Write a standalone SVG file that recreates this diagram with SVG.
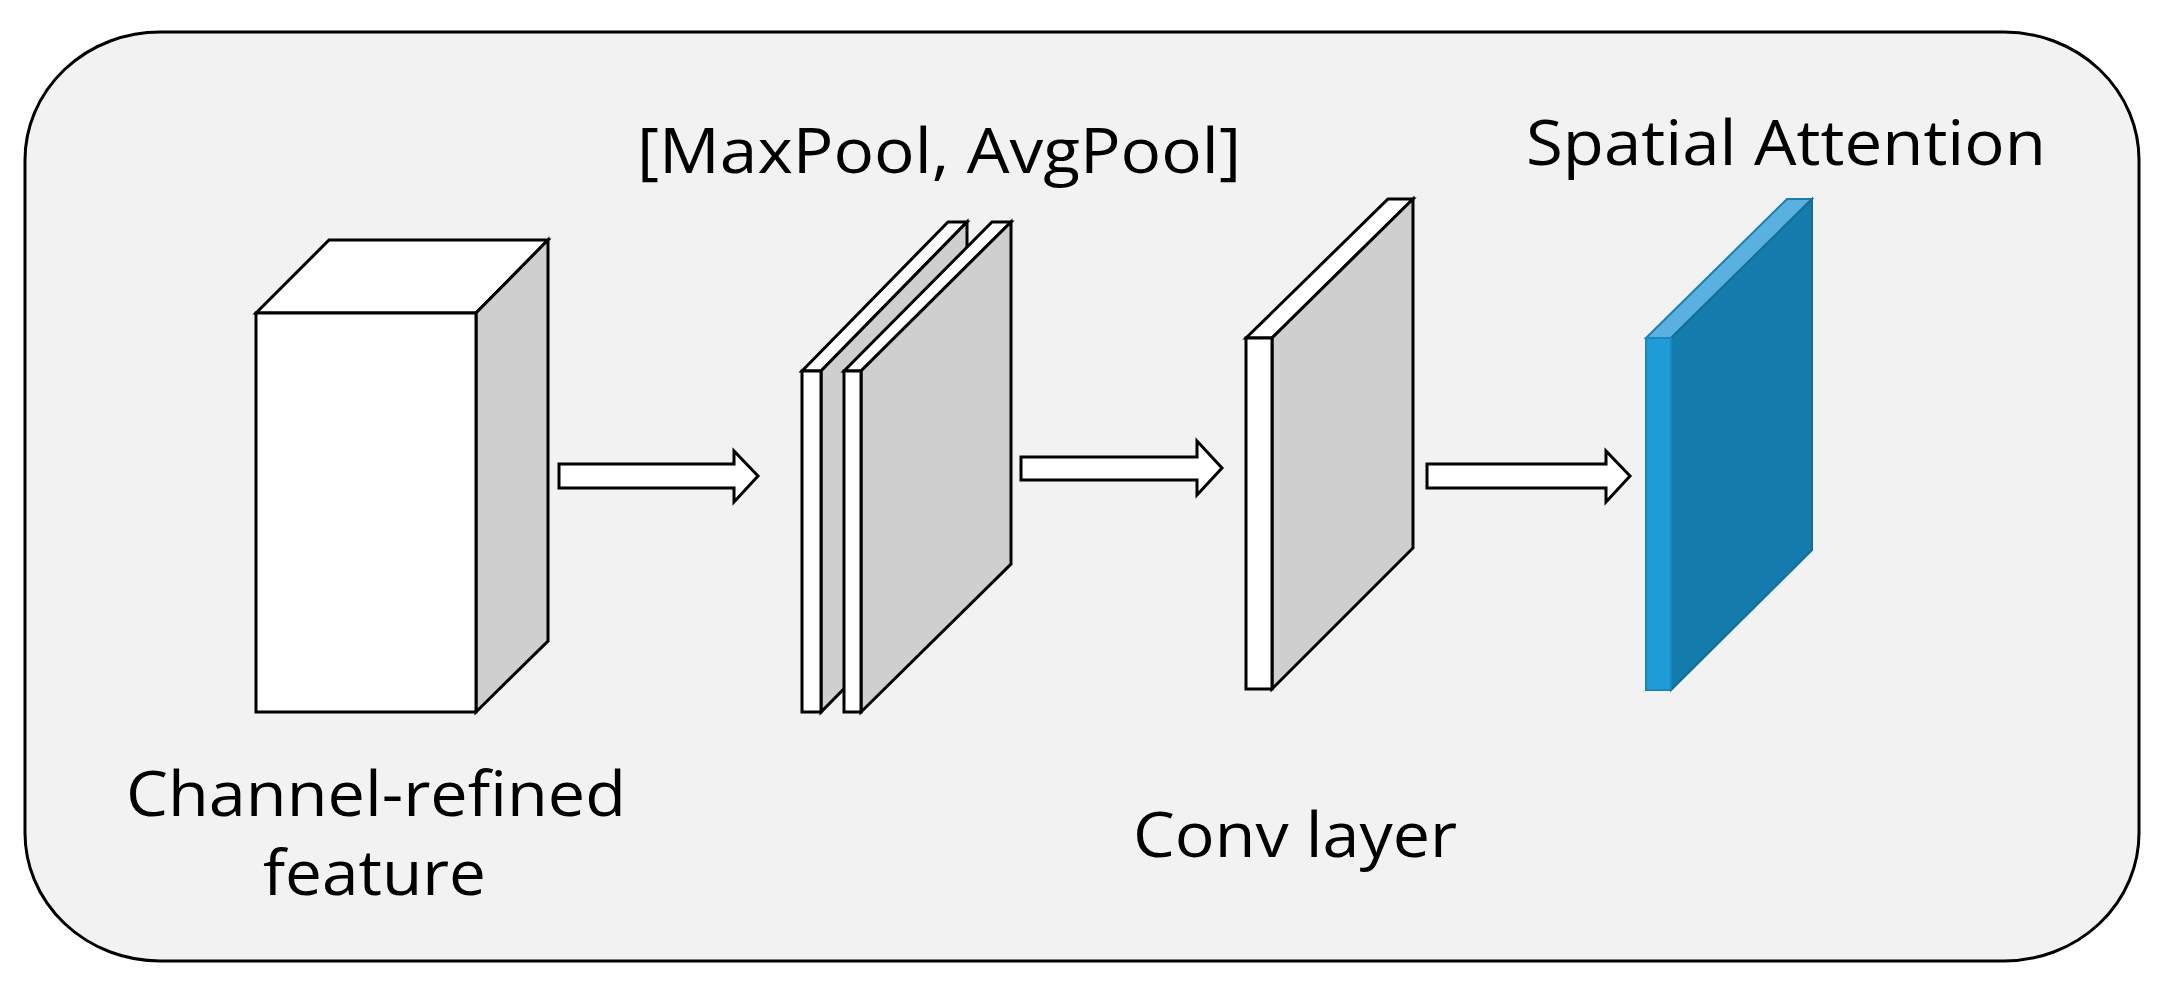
<svg xmlns="http://www.w3.org/2000/svg" width="2171" height="988" viewBox="0 0 2171 988">
<style>
.s{stroke:#000;stroke-width:3;stroke-linejoin:miter}
.w{fill:#fff}.g{fill:#cfcfcf}
.t{font-family:"Open Sans","Noto Sans",sans-serif;font-size:62px;fill:#000}
</style>
<rect width="2171" height="988" fill="#fff"/>
<rect x="25" y="32" width="2114" height="929" rx="135" ry="128" fill="#f2f2f2" stroke="#000" stroke-width="3"/>
<g id="cube">
<polygon class="s w" points="256,313 329,240 548,240 476,313"/>
<polygon class="s g" points="476,313 548,240 548,641 476,712"/>
<rect class="s w" x="256" y="313" width="220" height="399"/>
</g>
<g id="pool">
<polygon class="s w" points="802,371 948,222 967,222 821,371"/>
<polygon class="s g" points="821,371 967,222 967,564 821,712"/>
<rect class="s w" x="802" y="371" width="19" height="341"/>
<polygon class="s w" points="844,371 992,222 1011,222 861,371"/>
<polygon class="s g" points="861,371 1011,222 1011,564 861,712"/>
<rect class="s w" x="844" y="371" width="17" height="341"/>
</g>
<g id="conv">
<polygon class="s w" points="1246,338 1388,199 1413,199 1272,338"/>
<polygon class="s g" points="1272,338 1413,199 1413,548 1272,689"/>
<rect class="s w" x="1246" y="338" width="26" height="351"/>
</g>
<g id="attn">
<polygon fill="#5ab0de" stroke="#1a7fb0" stroke-width="2" points="1646,338 1787,199 1812,199 1671,338"/>
<polygon fill="#137cac" stroke="#126f9c" stroke-width="2" points="1671,338 1812,199 1812,550 1671,690"/>
<rect fill="#1f9bd7" stroke="#1a86bb" stroke-width="2" x="1646" y="338" width="25" height="352"/>
</g>
<g id="connectors">
<polygon class="s w" points="559,464 734,464 734,451 758,476 734,502 734,488 559,488"/>
<polygon class="s w" points="1021,457 1197,457 1197,441 1222,468 1197,495 1197,480 1021,480"/>
<polygon class="s w" points="1427,464 1606,464 1606,451 1630,476 1606,502 1606,488 1427,488"/>
</g>
<g id="labels">
<text class="t" x="637" y="173" textLength="604" lengthAdjust="spacingAndGlyphs">[MaxPool, AvgPool]</text>
<text class="t" x="1526" y="165" textLength="520" lengthAdjust="spacingAndGlyphs">Spatial Attention</text>
<text class="t" x="126" y="816" textLength="500" lengthAdjust="spacingAndGlyphs">Channel-refined</text>
<text class="t" x="263" y="895" textLength="223" lengthAdjust="spacingAndGlyphs">feature</text>
<text class="t" x="1133" y="857" textLength="324" lengthAdjust="spacingAndGlyphs">Conv layer</text>
</g>
</svg>
